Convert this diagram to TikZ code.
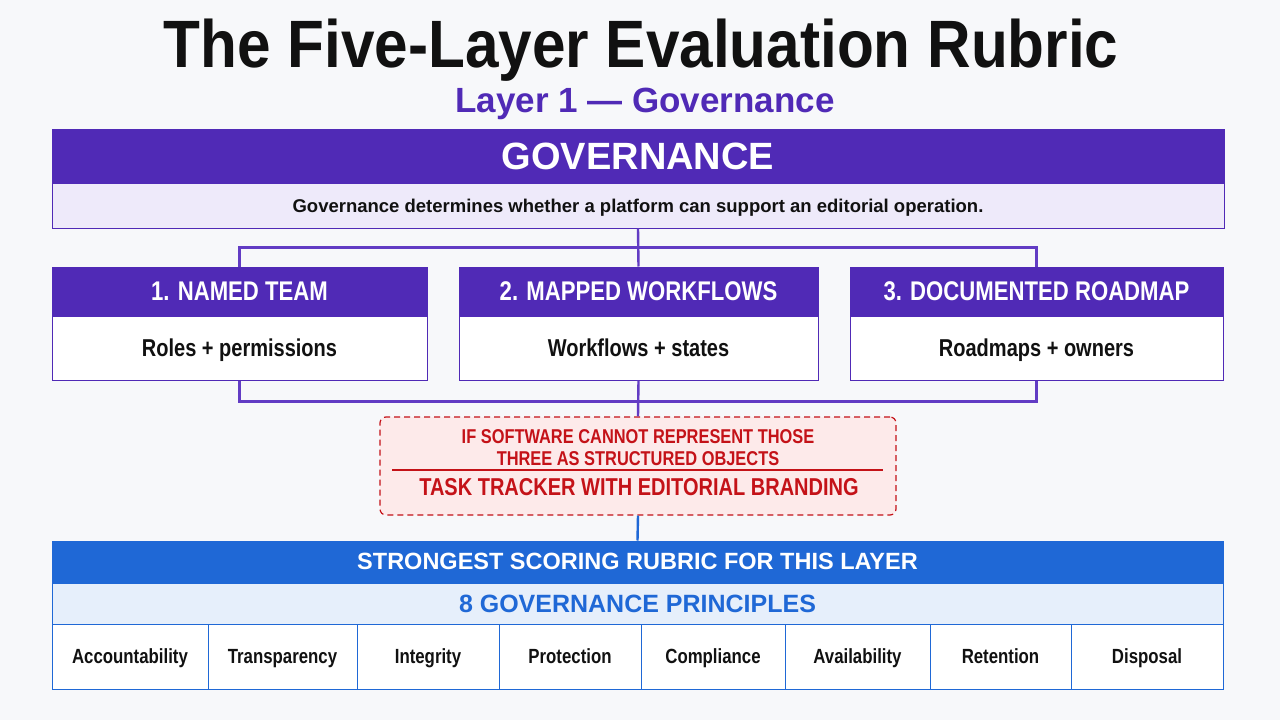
\documentclass[tikz,border=0pt]{standalone}
\usepackage{fontspec}
\setmainfont{Liberation Sans}[FakeStretch=0.82]
\newfontfamily\headfont{Liberation Sans}
\newfontfamily\titlefont{Liberation Sans}[FakeStretch=0.9]
\usepackage{xcolor}
\usetikzlibrary{calc,positioning}
\definecolor{govpurple}{RGB}{80,42,182}
\definecolor{govline}{RGB}{98,60,196}
\definecolor{govlav}{RGB}{238,234,250}
\definecolor{rubblue}{RGB}{31,104,214}
\definecolor{rubpale}{RGB}{230,239,251}
\definecolor{warnred}{RGB}{196,18,24}
\definecolor{warnpink}{RGB}{253,234,234}
\definecolor{pagebg}{RGB}{247,248,250}
\definecolor{inktext}{RGB}{17,17,17}
\newcommand{\fsz}[1]{\fontsize{#1}{#1}\selectfont}

\tikzset{
  headbox/.style={draw=govpurple,fill=govpurple,text=white,font=\fsz{27}\bfseries,
    inner sep=0pt,line width=1pt,text height=19.3pt,text depth=0pt},
  bodybox/.style={draw=govpurple,fill=white,text=inktext,font=\fsz{24.4}\bfseries,
    inner sep=0pt,line width=1pt,text height=17.5pt,text depth=0pt},
  link/.style={draw=govline,line width=2.4pt},
  warntext/.style={font=\fsz{20}\bfseries,text=warnred,anchor=base},
  cell/.style={draw=rubblue,fill=white,text=inktext,font=\fsz{20.5}\bfseries,
    inner sep=0pt,line width=1pt,minimum height=65pt,text height=14.7pt,text depth=0pt}
}

\begin{document}
\begin{tikzpicture}[x=1pt,y=-1pt]
  \fill[pagebg] (0,0) rectangle (1280,720);
  \useasboundingbox (0,0) rectangle (1280,720);
  % title
  \node[font=\titlefont\fsz{67}\bfseries,text=inktext,anchor=base] (title) at (641,67) {The Five-Layer Evaluation Rubric};
  \node[font=\headfont\fsz{35}\bfseries,text=govpurple,anchor=base] (subtitle) at (645,112) {Layer 1 — Governance};
  % governance block
  \node[headbox,font=\headfont\fsz{38}\bfseries,text height=27.2pt,minimum width=1172pt,minimum height=53pt] (govhead) at (638,155.5) {GOVERNANCE};
  \node[bodybox,fill=govlav,font=\headfont\fsz{18.5}\bfseries,text height=13.2pt,minimum width=1172pt,minimum height=45pt,below=0pt of govhead] (govbody) {Governance determines whether a platform can support an editorial operation.};
  % three pillars
  \node[headbox,minimum width=375pt,minimum height=48pt] (teamhead) at (239.5,291) {1. NAMED TEAM};
  \node[bodybox,minimum width=375pt,minimum height=64pt,below=0pt of teamhead] (teambody) {Roles + permissions};
  \node[headbox,minimum width=359pt,minimum height=48pt] (flowhead) at (638.5,291) {2. MAPPED WORKFLOWS};
  \node[bodybox,minimum width=359pt,minimum height=64pt,below=0pt of flowhead] (flowbody) {Workflows + states};
  \node[headbox,minimum width=373pt,minimum height=48pt] (roadhead) at (1036.5,291) {3. DOCUMENTED ROADMAP};
  \node[bodybox,minimum width=373pt,minimum height=64pt,below=0pt of roadhead] (roadbody) {Roadmaps + owners};
  % connectors
  \coordinate (topbus) at ($(govbody.south)+(0,19)$);
  \draw[link] (govbody.south) -- (flowhead.north);
  \draw[link] (teamhead.north) |- (topbus) -| (roadhead.north);
  \coordinate (lowbus) at ($(flowbody.south)+(0,21)$);
  \draw[link] (teambody.south) |- (lowbus) -| (roadbody.south);
  % warning
  \node[draw=warnred,fill=warnpink,dash pattern=on 6pt off 4pt,line width=1.2pt,rounded corners=6pt,
    minimum width=516pt,minimum height=98pt] (warn) at (638,466) {};
  \draw[link] (flowbody.south) -- (warn.north);
  \node[warntext] (warncond) at (638,443) {IF SOFTWARE CANNOT REPRESENT THOSE};
  \node[warntext] (warncond2) at (638,465) {THREE AS STRUCTURED OBJECTS};
  \coordinate (rulel) at ($(warn.west)+(13,4)$);
  \coordinate (ruler) at ($(warn.east)+(-14,4)$);
  \draw[warnred,line width=1.2pt] (rulel) -- (ruler);
  \node[warntext,font=\fsz{24.4}\bfseries] (warnres) at (639,495) {TASK TRACKER WITH EDITORIAL BRANDING};
  % rubric
  \node[headbox,draw=rubblue,fill=rubblue,font=\headfont\fsz{23.5}\bfseries,text height=16.8pt,minimum width=1171pt,minimum height=41pt] (rubhead) at (637.5,561.5) {STRONGEST SCORING RUBRIC FOR THIS LAYER};
  \node[bodybox,draw=rubblue,fill=rubpale,text=rubblue,font=\headfont\fsz{25}\bfseries,text height=17.9pt,minimum width=1171pt,minimum height=42pt,below=0pt of rubhead] (rubsub) {8 GOVERNANCE PRINCIPLES};
  \draw[link,draw=rubblue] (warn.south) -- (rubhead.north);
  \foreach \l/\r/\t [count=\i] in {52/208/Accountability,208/357/Transparency,357/499/Integrity,
      499/641/Protection,641/785/Compliance,785/930/Availability,930/1071/Retention,1071/1223/Disposal}
    \node[cell,minimum width={(\r-\l)*1pt}] (cell\i) at ({(\l+\r)/2},656.5) {\t};
\end{tikzpicture}
\end{document}
